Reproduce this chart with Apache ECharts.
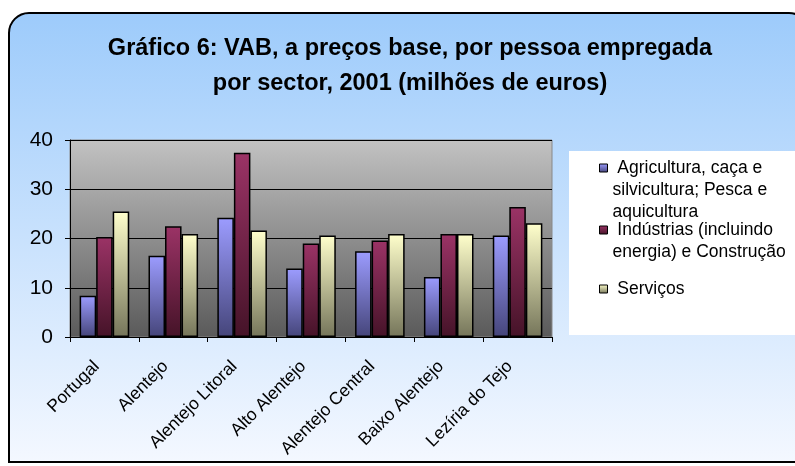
<!DOCTYPE html>
<html>
<head>
<meta charset="utf-8">
<script src="https://cdn.jsdelivr.net/npm/echarts@6/dist/echarts.min.js"></script>
<style>
	html, body { margin: 0; padding: 0; background: #fff; }
	#chart { width: 795px; height: 466px; }
</style>
</head>
<body>
<div id="chart"></div>
<script>
var categories = ['Portugal', 'Alentejo', 'Alentejo Litoral', 'Alto Alentejo', 'Alentejo Central', 'Baixo Alentejo', 'Lezíria do Tejo'];
var agricultura = [8.4, 16.5, 24.2, 13.9, 17.4, 12.2, 20.6];
var industrias = [20.3, 22.5, 37.4, 19.0, 19.6, 20.9, 26.4];
var servicos = [25.5, 20.9, 21.6, 20.6, 20.9, 20.9, 23.1];
var seriesNames = [
	' Agricultura, caça e\nsilvicultura; Pesca e\naquicultura',
	' Indústrias (incluindo\nenergia) e Construção',
	' Serviços'
];

var chart = echarts.init(document.getElementById('chart'));

function vgrad(top, bottom) {
	return new echarts.graphic.LinearGradient(0, 0, 0, 1, [
		{ offset: 0, color: top },
		{ offset: 1, color: bottom }
	]);
}

function barSeries(name, data, top, bottom) {
	return {
		name: name,
		type: 'bar',
		data: data,
		barGap: '0%',
		barCategoryGap: '28%',
		itemStyle: {
			color: vgrad(top, bottom),
			borderColor: '#000',
			borderWidth: 1.5
		}
	};
}

// legend text is centred on the icon, so blank lines are put in front
// to keep the icon level with the first line of a wrapped name
var LEGEND_LH = 22;
function legendItem(name, iconY) {
	var lines = name.split('\n').length;
	var total = lines * 2 - 1;
	return {
		data: [name],
		left: 594,
		top: iconY - total * LEGEND_LH / 2,
		orient: 'vertical',
		itemWidth: 8,
		itemHeight: 8,
		itemGap: 0,
		icon: 'rect',
		selectedMode: false,
		formatter: function (n) {
			return new Array(lines).join('\n') + n;
		},
		itemStyle: { borderColor: '#000', borderWidth: 1 },
		textStyle: {
			fontFamily: 'Liberation Sans',
			fontSize: 17.5,
			color: '#000',
			lineHeight: LEGEND_LH
		}
	};
}

var option = {
	backgroundColor: '#fff',
	animation: false,
	graphic: [{
		type: 'rect',
		z: -10,
		shape: { x: 9, y: 13, width: 800, height: 449, r: [20, 20, 0, 0] },
		style: {
			fill: vgrad('#9dcbfb', '#f4f8ff'),
			stroke: '#000',
			lineWidth: 2
		}
	}, {
		type: 'rect',
		z: -5,
		shape: { x: 569, y: 151, width: 230, height: 184 },
		style: { fill: '#fff' }
	}],
	title: {
		text: 'Gráfico 6: VAB, a preços base, por pessoa empregada\npor sector, 2001 (milhões de euros)',
		left: 405,
		textAlign: 'center',
		top: 26,
		textStyle: {
			fontFamily: 'Liberation Sans',
			fontWeight: 'bold',
			fontSize: 23.5,
			lineHeight: 35,
			color: '#000'
		}
	},
	legend: [
		legendItem(seriesNames[0], 163),
		legendItem(seriesNames[1], 225),
		legendItem(seriesNames[2], 284)
	],
	grid: {
		left: 70,
		right: 795 - 552,
		top: 140,
		bottom: 466 - 337,
		show: true,
		backgroundColor: vgrad('#c2c2c2', '#5a5a5a'),
		borderColor: '#888',
		borderWidth: 1
	},
	xAxis: {
		type: 'category',
		data: categories,
		axisLine: { lineStyle: { color: '#000', width: 1 } },
		axisTick: { show: true, length: 5, lineStyle: { color: '#000' } },
		axisLabel: {
			rotate: 45,
			interval: 0,
			margin: 19,
			padding: [0, 11, 0, 0],
			fontFamily: 'Liberation Sans',
			fontSize: 17.5,
			color: '#000'
		}
	},
	yAxis: {
		type: 'value',
		min: 0,
		max: 40,
		interval: 10,
		axisLine: { show: true, lineStyle: { color: '#000', width: 1 } },
		axisTick: { show: true, length: 5, lineStyle: { color: '#000' } },
		axisLabel: {
			fontFamily: 'Liberation Sans',
			fontSize: 21,
			color: '#000',
			margin: 17
		},
		splitLine: { lineStyle: { color: '#000', width: 1 } }
	},
	series: [
		barSeries(seriesNames[0], agricultura, '#9c9cff', '#45457a'),
		barSeries(seriesNames[1], industrias, '#9b3366', '#451328'),
		barSeries(seriesNames[2], servicos, '#ffffcc', '#75755a')
	]
};

chart.setOption(option);
</script>
</body>
</html>
